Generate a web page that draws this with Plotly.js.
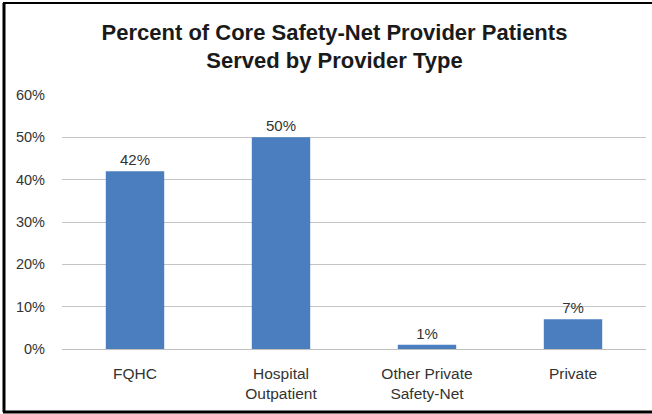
<!DOCTYPE html>
<html><head><meta charset="utf-8">
<script src="https://cdn.plot.ly/plotly-3.0.1.min.js"></script>
<style>html,body{margin:0;padding:0;background:#fff}#chart{width:652px;height:414px}</style>
</head><body><div id="chart"></div>
<script>
const categories = ["FQHC", "Hospital<br>Outpatient", "Other Private<br>Safety-Net", "Private"];
const values = [0.42, 0.50, 0.01, 0.07];
const valueLabels = ["42%", "50%", "1%", "7%"];
const yTickValues = [0, 0.1, 0.2, 0.3, 0.4, 0.5, 0.6];
const yTickLabels = ["0%", "10%", "20%", "30%", "40%", "50%", "60%"];

const L = 62, R = 646, T = 95, B = 349, W = 652, H = 414;
const px = v => (v - L) / (R - L);
const py = v => (B - v) / (B - T);
const FONT = 'Liberation Sans, Arial, sans-serif';

Plotly.newPlot('chart', [{
  type: 'bar', x: categories, y: values,
  text: valueLabels, textposition: 'outside', cliponaxis: false,
  textfont: {family: FONT, size: 15, color: '#333'},
  marker: {color: '#4a7ebf', line: {width: 0}},
  hoverinfo: 'none'
}], {
  width: W, height: H,
  margin: {l: L, r: W - R, t: T, b: H - B},
  paper_bgcolor: '#fff', plot_bgcolor: '#fff',
  bargap: 0.6,
  showlegend: false,
  title: {text: '<b>Percent of Core Safety-Net Provider Patients<br>Served by Provider Type</b>',
    xref: 'container', yref: 'container',
    x: 0.513, xanchor: 'center', y: 1 - 39.5 / 414, yanchor: 'middle',
    font: {family: FONT, size: 22, color: '#1a1a1a'}},
  xaxis: {tickfont: {family: FONT, size: 15.5, color: '#333'},
    showline: true, linecolor: '#bfbfbf', linewidth: 1, ticks: '',
    ticklabelstandoff: 10, fixedrange: true},
  yaxis: {range: [0, 0.6], tickvals: yTickValues, ticktext: yTickLabels,
    tickfont: {family: FONT, size: 14.5, color: '#333'},
    showgrid: true, gridcolor: '#c4c4c4', gridwidth: 1, zeroline: false,
    showline: false, ticks: '', ticklabelstandoff: 16, fixedrange: true},
  shapes: [
    {type: 'line', xref: 'paper', yref: 'paper', x0: px(4), x1: px(4), y0: py(3), y1: py(412), line: {color: '#000', width: 3}},
    {type: 'line', xref: 'paper', yref: 'paper', x0: px(3), x1: px(660), y0: py(3), y1: py(3), line: {color: '#000', width: 2}},
    {type: 'line', xref: 'paper', yref: 'paper', x0: px(3), x1: px(660), y0: py(412), y1: py(412), line: {color: '#000', width: 3}}
  ]
}, {staticPlot: true});
</script></body></html>
